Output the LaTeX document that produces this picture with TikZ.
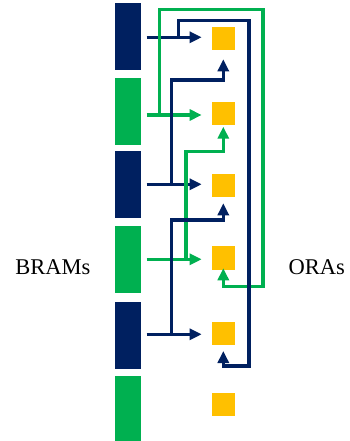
\documentclass[tikz,border=0pt]{standalone}
\usepackage{fontspec}
\setmainfont{Liberation Serif}
\usetikzlibrary{arrows.meta}
\definecolor{navy}{RGB}{0,32,96}
\definecolor{bgreen}{RGB}{0,176,80}
\definecolor{ora}{RGB}{255,192,0}
\begin{document}
\begin{tikzpicture}[x=1pt,y=-1pt,
  bar/.style={draw=none,minimum width=25.7pt,minimum height=67pt,inner sep=0pt,outer sep=0pt},
  sq/.style={fill=ora,draw=none,minimum width=23.3pt,minimum height=23.3pt,inner sep=0pt,outer sep=0pt},
  conn/.style={line width=3.1pt,-{Triangle[length=12pt,width=11pt]}},
  lbl/.style={font=\fontsize{22.5}{25}\selectfont,anchor=base,inner sep=0pt}]
\useasboundingbox (0,0) rectangle (349,441);
% BRAM bars
\node[bar,fill=navy]  (b1) at (127.8,37) {};
\node[bar,fill=bgreen](b2) at (127.8,111.3) {};
\node[bar,fill=navy]  (b3) at (127.8,184.3) {};
\node[bar,fill=bgreen](b4) at (127.8,259) {};
\node[bar,fill=navy]  (b5) at (127.8,335) {};
\node[bar,fill=bgreen](b6) at (127.8,409.4) {};
% ORA squares
\node[sq] (s1) at (223.3,38.3) {};
\node[sq] (s2) at (223.3,113.3) {};
\node[sq] (s3) at (223.3,185.7) {};
\node[sq] (s4) at (223.3,258) {};
\node[sq] (s5) at (223.3,333.7) {};
\node[sq] (s6) at (223.3,404.2) {};
% labels
\node[lbl] (bl) at (52.8,274) {BRAMs};
\node[lbl] (ol) at (316.7,274) {ORAs};
% arrow start points
\coordinate (a1) at (146.7,37.3);
\coordinate (a2) at (146.7,115);
\coordinate (a3) at (146.7,184.3);
\coordinate (a4) at (146.7,259.3);
\coordinate (a5) at (146.7,334.3);
% direct arrows
\draw[conn,navy]   (a1) -- ([xshift=-10pt]a1 -| s1.west);
\draw[conn,bgreen] (a2) -- ([xshift=-10pt]a2 -| s2.west);
\draw[conn,navy]   (a3) -- ([xshift=-10pt]a3 -| s3.west);
\draw[conn,bgreen] (a4) -- ([xshift=-10pt]a4 -| s4.west);
\draw[conn,navy]   (a5) -- ([xshift=-10pt]a5 -| s5.west);
% green wrap: bar 2 -> square 4
\draw[conn,bgreen,line join=miter] (159.3,115) -- (159.3,9.3) -- (263,9.3) -- (263,286.7) -- (223.3,286.7) -- ([yshift=1.4pt]s4.south);
% green: bar 4 -> square 2
\draw[conn,bgreen,line join=miter] (186,259.3) -- (186,151.7) -- (223.3,151.7) -- (223.3,126.7);
% navy wrap: bar 1 -> square 5
\draw[conn,navy,line join=miter] (178.3,37.3) -- (178.3,20.7) -- (249,20.7) -- (249,366) -- (223.3,366) -- (223.3,351);
% navy: bar 3 -> square 1
\draw[conn,navy,line join=miter] (171.7,184.3) -- (171.7,80) -- (223.3,80) -- (223.3,59.3);
% navy: bar 5 -> square 3
\draw[conn,navy,line join=miter] (171.7,334.3) -- (171.7,220) -- (223.3,220) -- (223.3,203.3);
\end{tikzpicture}
\end{document}
